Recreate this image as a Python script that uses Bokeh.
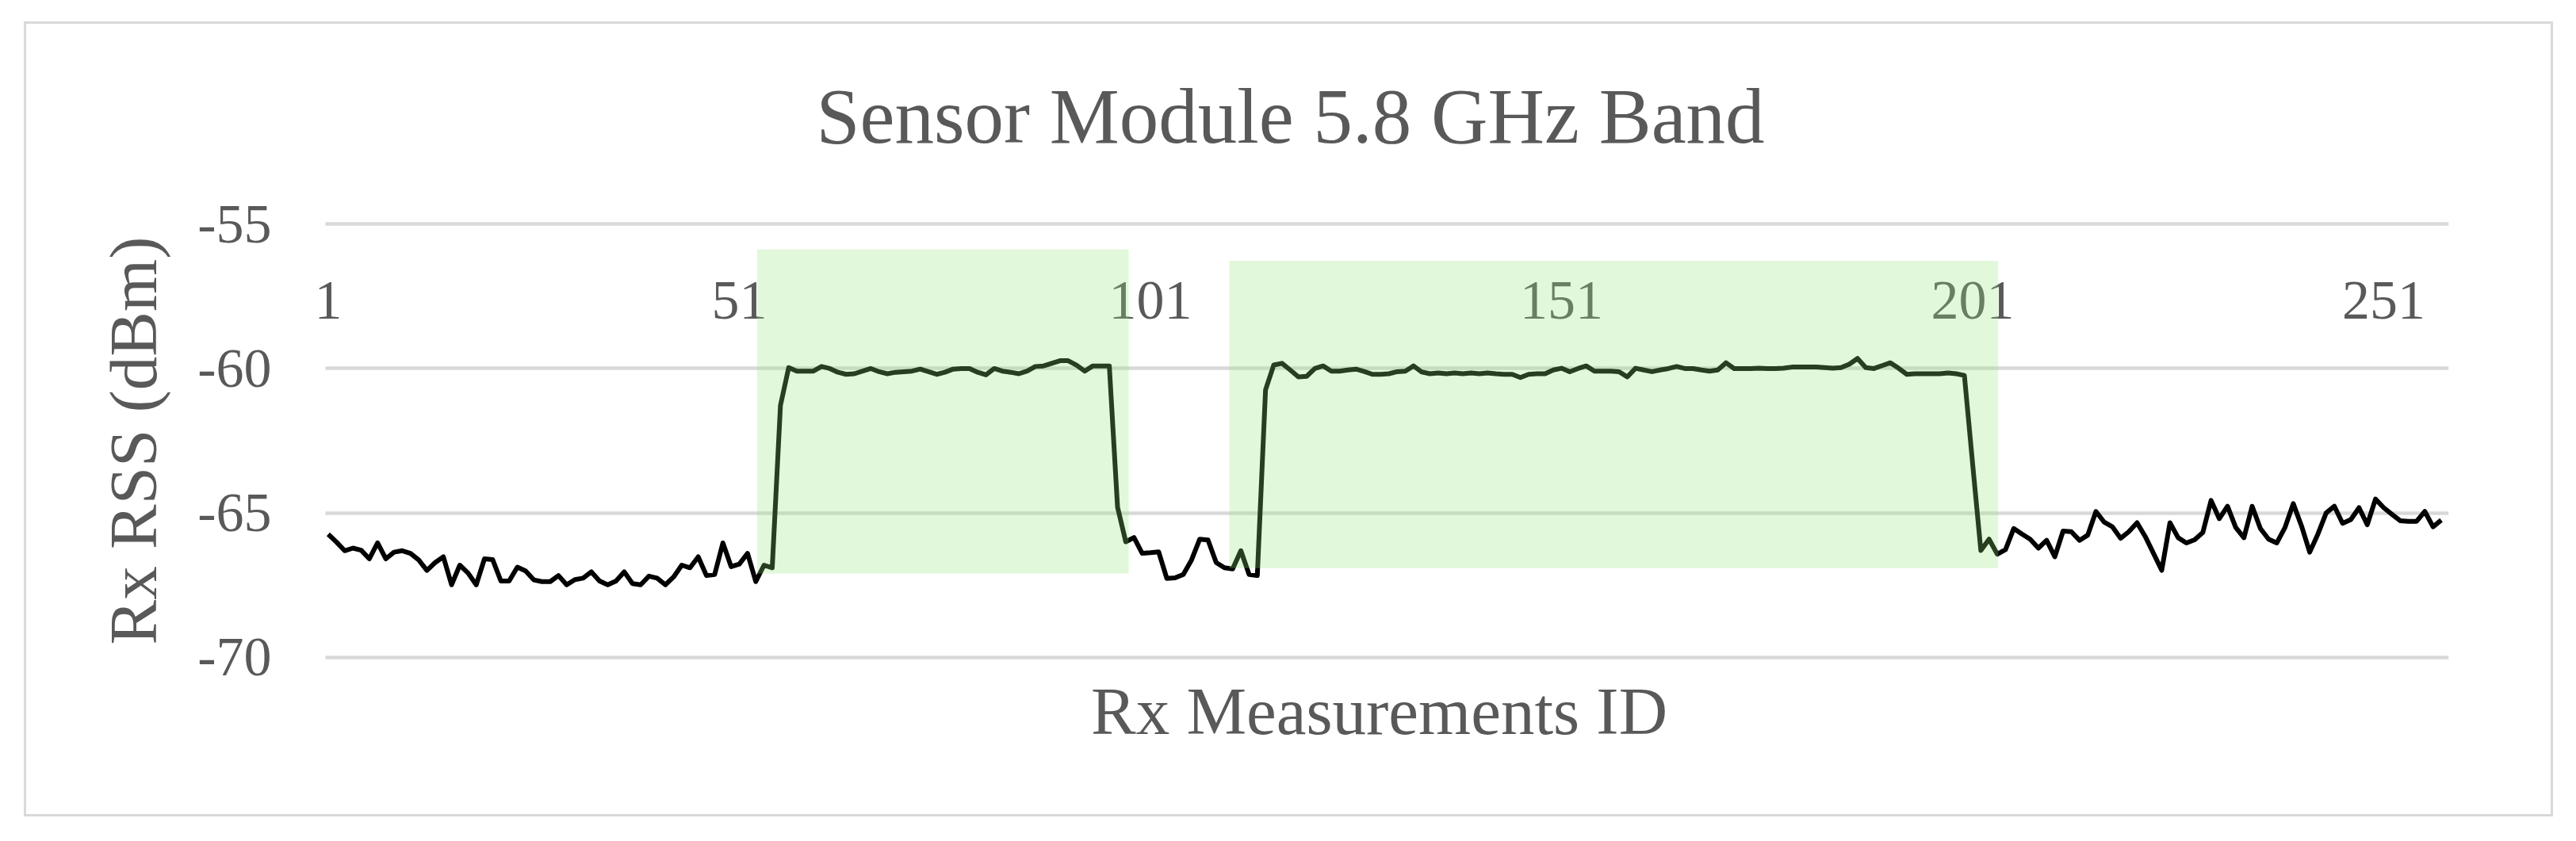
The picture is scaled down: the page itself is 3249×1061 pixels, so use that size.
from bokeh.plotting import figure
from bokeh.models import (Range1d, FixedTicker, Title, ColumnDataSource, LabelSet,
                          CustomJSTickFormatter, InlineStyleSheet)
from bokeh.embed import file_html
from bokeh.resources import INLINE

# ---------------- data ----------------
title_text = "Sensor Module 5.8 GHz Band"
x_title = "Rx Measurements ID"
y_title = "Rx RSS (dBm)"
x_ticks = [1, 51, 101, 151, 201, 251]
x_tick_labels = ["1", "51", "101", "151", "201", "251"]
x_axis_cross = -57.64          # dBm level where the category labels sit
y_ticks = [-70, -65, -60, -55]

# measurements 1-56 (idle, then first rise)
rss_idle_1 = [
    -65.74, -66.01, -66.31, -66.22, -66.29, -66.59, -66.04, -66.59, -66.36, -66.31,
    -66.40, -66.63, -66.99, -66.72, -66.52, -67.49, -66.81, -67.08, -67.49, -66.59,
    -66.62, -67.36, -67.36, -66.88, -67.01, -67.32, -67.38, -67.38, -67.17, -67.49,
    -67.31, -67.26, -67.04, -67.36, -67.49, -67.36, -67.04, -67.45, -67.49, -67.19,
    -67.26, -67.49, -67.22, -66.81, -66.90, -66.52, -67.17, -67.13, -66.04, -66.86,
    -66.77, -66.40, -67.38, -66.81, -66.90, -61.28,
]
# measurements 57-96 (first active window)
rss_active_1 = [
    -59.97, -60.09, -60.09, -60.09, -59.93, -60.00, -60.13, -60.20, -60.18, -60.09,
    -60.00, -60.11, -60.18, -60.13, -60.11, -60.09, -60.02, -60.11, -60.20, -60.13,
    -60.02, -60.00, -60.00, -60.13, -60.22, -60.00, -60.09, -60.13, -60.18, -60.09,
    -59.93, -59.91, -59.82, -59.73, -59.73, -59.88, -60.09, -59.91, -59.91, -59.91,
]
# measurements 97-115 (gap between windows)
rss_idle_2 = [
    -64.80, -66.00, -65.85, -66.40, -66.38, -66.35, -67.27, -67.25, -67.13, -66.63,
    -65.91, -65.94, -66.72, -66.90, -66.94, -66.31, -67.13, -67.17, -60.74,
]
# measurements 116-200 (second active window)
rss_active_2 = [
    -59.88, -59.82, -60.05, -60.29, -60.27, -60.00, -59.91, -60.09, -60.09, -60.05,
    -60.02, -60.10, -60.20, -60.20, -60.18, -60.11, -60.09, -59.91, -60.12, -60.18,
    -60.15, -60.18, -60.15, -60.18, -60.15, -60.18, -60.15, -60.18, -60.20, -60.20,
    -60.31, -60.20, -60.18, -60.18, -60.05, -59.99, -60.11, -60.00, -59.91, -60.09,
    -60.09, -60.09, -60.11, -60.29, -59.99, -60.05, -60.11, -60.05, -60.00, -59.93,
    -60.00, -60.00, -60.05, -60.09, -60.05, -59.80, -60.00, -60.00, -60.00, -59.99,
    -60.00, -60.00, -59.99, -59.95, -59.95, -59.95, -59.95, -59.97, -59.99, -59.97,
    -59.85, -59.65, -59.97, -60.00, -59.90, -59.80, -59.99, -60.20, -60.18, -60.18,
    -60.18, -60.18, -60.15, -60.18, -60.24,
]
# measurements 201-258 (idle after second window)
rss_idle_3 = [
    -63.30, -66.30, -65.91, -66.43, -66.27, -65.54, -65.73, -65.91, -66.22, -65.95,
    -66.52, -65.63, -65.65, -65.95, -65.77, -64.95, -65.32, -65.48, -65.88, -65.65,
    -65.34, -65.82, -66.40, -66.99, -65.34, -65.86, -66.04, -65.93, -65.68, -64.57,
    -65.20, -64.77, -65.50, -65.86, -64.77, -65.54, -65.91, -66.04, -65.50, -64.68,
    -65.45, -66.36, -65.73, -65.00, -64.77, -65.36, -65.23, -64.82, -65.41, -64.52,
    -64.82, -65.05, -65.27, -65.29, -65.29, -64.95, -65.48, -65.25,
]

# highlighted windows (in measurement-ID / dBm units)
band_start = [53.17, 110.6]
band_end = [98.35, 204.1]
band_top = [-55.88, -56.27]
band_bottom = [-67.10, -66.91]

# horizontal extent of the plot area (category units)
plot_x_start = 0.6625
plot_x_end = 258.91

rss = rss_idle_1 + rss_active_1 + rss_idle_2 + rss_active_2 + rss_idle_3
ids = list(range(1, len(rss) + 1))

# ---------------- styling ----------------
FONT = "Liberation Serif"
TXT = "#595959"
GRID = "#d9d9d9"
PAD_UNITS = 20 / 10.37   # extra room on the left so the "1" label is not clipped
M = 20                   # canvas margin around the chart's bordered area

p = figure(
    width=3190 + 2 * M, height=1003 + 2 * M,
    output_backend="svg", toolbar_location=None,
    x_range=Range1d(plot_x_start - PAD_UNITS, plot_x_end),
    y_range=Range1d(-70.2, -54.8),
    min_border_left=360 + M, min_border_right=132 + M,
    min_border_top=248 + M, min_border_bottom=194 + M,
    background_fill_color="white", border_fill_color="white",
)
p.outline_line_color = None
p.styles = {
    "position": "relative", "left": f"{30 - M}px", "top": f"{27 - M}px",
}
# light grey frame around the chart area (drawn above the canvas)
p.stylesheets = [InlineStyleSheet(css=f"""
:host::after {{
  content: "";
  position: absolute;
  left: {M}px; top: {M}px; right: {M}px; bottom: {M}px;
  border: 3px solid #d9d9d9;
  pointer-events: none;
  z-index: 1000;
}}
""")]

p.title = Title(text=title_text, align="left", offset=639, standoff=150,
                text_font=FONT, text_font_size="99px", text_font_style="normal",
                text_color=TXT)

# grid
p.xgrid.visible = False
p.ygrid.ticker = FixedTicker(ticks=y_ticks)
p.ygrid.cross_bounds = (plot_x_start, plot_x_end)
p.ygrid.grid_line_color = GRID
p.ygrid.grid_line_width = 4.5

# y axis
ya = p.yaxis[0]
ya.ticker = FixedTicker(ticks=y_ticks)
ya.formatter = CustomJSTickFormatter(code="return tick.toFixed(0);")
ya.axis_line_color = None
ya.major_tick_out = 0
ya.major_tick_in = 0
ya.minor_tick_out = 0
ya.minor_tick_in = 0
ya.major_label_standoff = 48
ya.major_label_text_font = FONT
ya.major_label_text_font_size = "70px"
ya.major_label_text_color = TXT
ya.axis_label = y_title
ya.axis_label_standoff = 31
ya.axis_label_text_font = FONT
ya.axis_label_text_font_size = "85px"
ya.axis_label_text_font_style = "normal"
ya.axis_label_text_color = TXT

# x axis: only the title at the bottom; category labels float inside the plot
xa = p.xaxis[0]
xa.ticker = FixedTicker(ticks=[])
xa.axis_line_color = None
xa.major_tick_out = 0
xa.major_tick_in = 0
xa.minor_tick_out = 0
xa.minor_tick_in = 0
xa.major_label_standoff = 0
xa.axis_label = x_title
xa.axis_label_standoff = 13
xa.axis_label_text_font = FONT
xa.axis_label_text_font_size = "85px"
xa.axis_label_text_font_style = "normal"
xa.axis_label_text_color = TXT

tick_src = ColumnDataSource(data=dict(
    x=x_ticks, y=[x_axis_cross] * len(x_ticks), text=x_tick_labels))
p.add_layout(LabelSet(x="x", y="y", text="text", source=tick_src,
                      text_align="center", text_baseline="middle",
                      text_font=FONT, text_font_size="70px", text_color=TXT))

# data line
p.line(ids, rss, line_color="black", line_width=6, line_join="round")

# translucent highlight windows drawn above everything
p.quad(left=band_start, right=band_end, top=band_top, bottom=band_bottom,
       fill_color="#8fe675", fill_alpha=0.27, line_color=None, level="overlay")

open("out.html", "w").write(file_html(p, INLINE))
